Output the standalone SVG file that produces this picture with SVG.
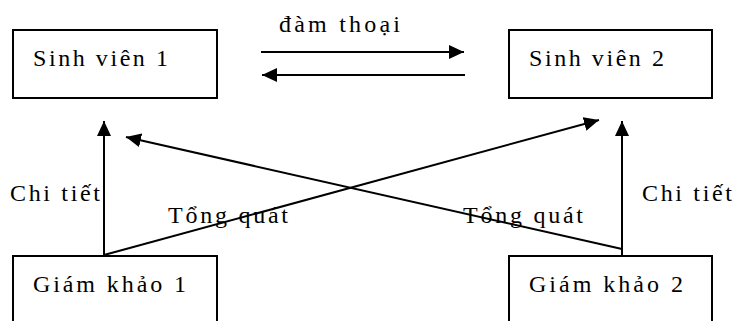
<svg xmlns="http://www.w3.org/2000/svg" width="735" height="321" viewBox="0 0 735 321">
  <defs>
    <marker id="arrow" markerUnits="userSpaceOnUse" markerWidth="15" markerHeight="14" refX="15" refY="7" orient="auto">
      <path d="M0,0 L15,7 L0,14 z" fill="#000"/>
    </marker>
    <style>
      .box { fill: #fff; stroke: #000; stroke-width: 2; }
      .edge { stroke: #000; stroke-width: 2; fill: none; marker-end: url(#arrow); }
      .lbl { font-family: 'Liberation Serif', 'Times New Roman', serif; font-size: 24px; fill: #000; }
    </style>
  </defs>
  <rect width="735" height="321" fill="#fff"/>

  <g id="sinhvien1">
    <rect class="box" x="13" y="30" width="204" height="68"/>
    <text class="lbl" x="33" y="66" textLength="135" lengthAdjust="spacing">Sinh viên 1</text>
  </g>
  <g id="sinhvien2">
    <rect class="box" x="509" y="30" width="203" height="68"/>
    <text class="lbl" x="529" y="66" textLength="135" lengthAdjust="spacing">Sinh viên 2</text>
  </g>
  <g id="giamkhao1">
    <rect class="box" x="13" y="256" width="204" height="80"/>
    <text class="lbl" x="33" y="292" textLength="153" lengthAdjust="spacing">Giám khảo 1</text>
  </g>
  <g id="giamkhao2">
    <rect class="box" x="509" y="256" width="203" height="80"/>
    <text class="lbl" x="529" y="292" textLength="154" lengthAdjust="spacing">Giám khảo 2</text>
  </g>

  <g id="connectors">
    <line class="edge" x1="261" y1="52" x2="464" y2="52"/>
    <line class="edge" x1="465" y1="75" x2="262" y2="75"/>
    <line class="edge" x1="104" y1="255" x2="104" y2="121"/>
    <line class="edge" x1="622" y1="255" x2="622" y2="121"/>
    <line class="edge" x1="104" y1="255" x2="599" y2="120"/>
    <line class="edge" x1="622" y1="249" x2="126" y2="137"/>
  </g>

  <g id="labels">
    <text class="lbl" x="279" y="32" textLength="121" lengthAdjust="spacing">đàm thoại</text>
    <text class="lbl" x="10" y="201" textLength="90" lengthAdjust="spacing">Chi tiết</text>
    <text class="lbl" x="642" y="201" textLength="90" lengthAdjust="spacing">Chi tiết</text>
    <text class="lbl" x="168" y="223" textLength="120" lengthAdjust="spacing">Tổng quát</text>
    <text class="lbl" x="463" y="223" textLength="120" lengthAdjust="spacing">Tổng quát</text>
  </g>
</svg>
